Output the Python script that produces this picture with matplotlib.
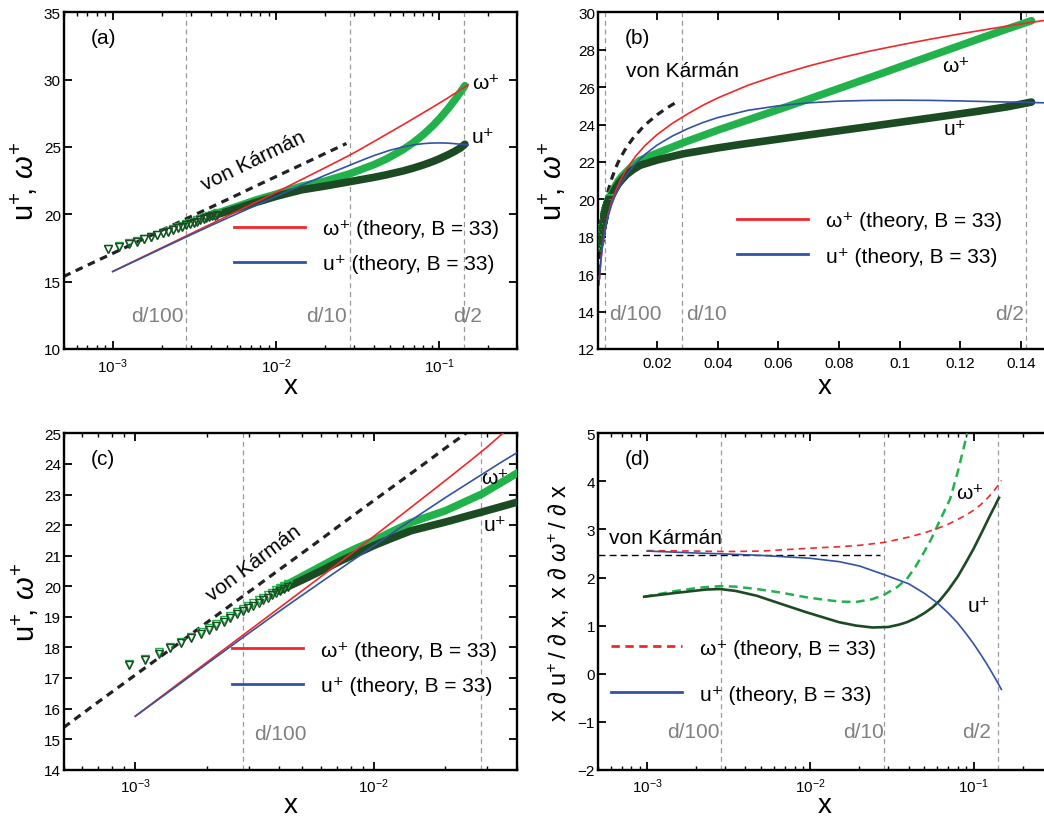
import matplotlib
matplotlib.use('Agg')
import matplotlib.pyplot as plt
from matplotlib.lines import Line2D
from matplotlib.ticker import NullFormatter

plt.rcParams['font.family'] = ['Liberation Sans', 'DejaVu Sans']
plt.rcParams['mathtext.fontset'] = 'custom'
plt.rcParams['mathtext.rm'] = 'Liberation Sans'
plt.rcParams['mathtext.it'] = 'Liberation Sans:italic'
plt.rcParams['mathtext.bf'] = 'Liberation Sans:bold'
plt.rcParams['axes.linewidth'] = 1.7

LIGHT = '#22b24c'
DARK = '#1b4a23'
RED = '#f0282a'
BLUE = '#3152a5'
VGRAY = '#9a9a9a'
TGRAY = '#808080'

# measured profile: individual markers near the wall
mark_x = [0.00094, 0.00110, 0.00126, 0.00140, 0.00156, 0.00172, 0.00188, 0.00203,
          0.00219, 0.00235, 0.00250, 0.00267, 0.00282, 0.00298, 0.00313, 0.00329,
          0.00344, 0.00360, 0.00375, 0.00391, 0.00406, 0.00422, 0.00437]
mark_w = [17.46, 17.62, 17.84, 18.02, 18.19, 18.35, 18.49, 18.63, 18.76, 18.90, 19.02,
          19.15, 19.25, 19.35, 19.45, 19.54, 19.63, 19.71, 19.79, 19.87, 19.94, 20.01, 20.08]
mark_u = [17.43, 17.59, 17.80, 17.98, 18.15, 18.30, 18.44, 18.58, 18.70, 18.84, 18.95,
          19.08, 19.18, 19.28, 19.37, 19.46, 19.54, 19.62, 19.70, 19.77, 19.84, 19.91, 19.97]

# measured profile further out (dense samples, drawn as a band)
band_x = [0.0040, 0.0050, 0.0060, 0.00727, 0.0085, 0.0100, 0.0120, 0.0144, 0.0200,
          0.0285, 0.0400, 0.0473, 0.0600, 0.0693, 0.0800, 0.0912, 0.1000, 0.1132,
          0.1250, 0.1352, 0.1434]
band_w = [19.92, 20.32, 20.65, 21.00, 21.25, 21.49, 21.80, 22.09, 22.47, 23.02, 23.70,
          24.10, 24.80, 25.32, 25.93, 26.57, 27.08, 27.84, 28.52, 29.10, 29.55]
band_u = [19.85, 20.20, 20.50, 20.83, 21.07, 21.33, 21.58, 21.82, 22.10, 22.43, 22.75,
          22.93, 23.22, 23.43, 23.67, 23.92, 24.12, 24.42, 24.69, 24.94, 25.20]

# theory, B = 33
th_x = [0.001, 0.0015, 0.002, 0.003, 0.004, 0.005, 0.006, 0.008, 0.010, 0.013,
        0.016, 0.020, 0.025, 0.030, 0.035, 0.040, 0.050, 0.060, 0.070, 0.080,
        0.090, 0.100, 0.110, 0.120, 0.130, 0.140, 0.150]
th_w = [15.75, 16.79, 17.52, 18.55, 19.28, 19.85, 20.31, 21.05, 21.63, 22.32,
        22.87, 23.46, 24.06, 24.56, 25.02, 25.42, 26.10, 26.65, 27.13, 27.55,
        27.92, 28.25, 28.56, 28.85, 29.12, 29.38, 29.62]
th_u = [15.75, 16.75, 17.47, 18.47, 19.17, 19.70, 20.13, 20.80, 21.32, 21.93,
        22.40, 22.90, 23.38, 23.77, 24.10, 24.37, 24.76, 25.00, 25.16, 25.25,
        25.29, 25.30, 25.29, 25.26, 25.22, 25.19, 25.15]

# von Karman log law
vk_x = [0.0005, 0.0007, 0.001, 0.0015, 0.002, 0.003, 0.004, 0.005, 0.006, 0.007,
        0.008, 0.010, 0.012, 0.015, 0.017, 0.020, 0.023, 0.027]
vk_y = [15.38, 16.22, 17.10, 18.10, 18.82, 19.82, 20.53, 21.08, 21.53, 21.92,
        22.25, 22.80, 23.25, 23.80, 24.11, 24.52, 24.86, 25.26]

# log-derivatives, theory
dth_x = [0.001, 0.002, 0.003, 0.005, 0.010, 0.015, 0.020, 0.0283, 0.040, 0.050,
         0.060, 0.070, 0.080, 0.090, 0.100, 0.110, 0.120, 0.130, 0.140, 0.148]
dth_w = [2.56, 2.55, 2.54, 2.55, 2.61, 2.64, 2.67, 2.73, 2.84, 2.93,
         3.02, 3.11, 3.21, 3.30, 3.40, 3.51, 3.63, 3.76, 3.90, 4.02]
dth_u = [2.55, 2.51, 2.49, 2.46, 2.40, 2.33, 2.24, 2.06, 1.87, 1.67,
         1.47, 1.26, 1.05, 0.83, 0.62, 0.41, 0.21, 0.01, -0.18, -0.33]

# log-derivatives, measured
ddu_x = [0.00096, 0.0015, 0.0023, 0.0028, 0.0035, 0.0047, 0.0065, 0.0094, 0.012, 0.015,
         0.019, 0.024, 0.030, 0.035, 0.039, 0.044, 0.050, 0.056, 0.062, 0.070,
         0.080, 0.090, 0.100, 0.113, 0.126, 0.136, 0.143]
ddu_y = [1.60, 1.68, 1.75, 1.76, 1.72, 1.62, 1.46, 1.28, 1.17, 1.07,
         1.00, 0.96, 0.97, 1.02, 1.07, 1.15, 1.26, 1.38, 1.52, 1.74,
         2.02, 2.32, 2.60, 2.96, 3.29, 3.51, 3.66]
ddw_x = [0.00096, 0.0015, 0.0021, 0.0028, 0.0035, 0.0047, 0.0065, 0.0094, 0.012, 0.015,
         0.019, 0.024, 0.0283, 0.034, 0.039, 0.044, 0.049, 0.055, 0.062, 0.0717,
         0.080, 0.0914]
ddw_y = [1.60, 1.72, 1.79, 1.82, 1.81, 1.76, 1.69, 1.59, 1.54, 1.50,
         1.49, 1.55, 1.64, 1.80, 1.97, 2.22, 2.49, 2.80, 3.18, 3.63,
         4.20, 5.00]
dvk_x = [0.0005, 0.0266]
dvk_y = [2.47, 2.47]

# reference heights
d_x = [0.00283, 0.0283, 0.1415]
d_labels = ['d/100', 'd/10', 'd/2']

leg_w = '\u03c9\u207a (theory, B = 33)'
leg_u = 'u\u207a (theory, B = 33)'

FS = 15

fig = plt.figure(figsize=(10.44, 8.2), dpi=100)
ax_a = fig.add_axes([0.0609, 0.5732, 0.4345, 0.4106])
ax_b = fig.add_axes([0.5727, 0.5732, 0.4345, 0.4106])
ax_c = fig.add_axes([0.0609, 0.0601, 0.4345, 0.4102])
ax_d = fig.add_axes([0.5727, 0.0601, 0.4345, 0.4102])


def style(ax):
    ax.tick_params(which='both', direction='in', top=True, right=True, labelsize=11)
    ax.tick_params(which='major', length=6, width=1.3, pad=5)
    ax.tick_params(axis='y', which='major', pad=2)
    ax.tick_params(which='minor', length=3, width=1.0)
    ax.xaxis.set_minor_formatter(NullFormatter())


def vlines(ax):
    for xv in d_x:
        ax.axvline(xv, color=VGRAY, lw=0.9, ls=(0, (4, 3)), zorder=1)


def draw_profiles(ax):
    ax.plot(vk_x, vk_y, color='#222222', lw=2.3, ls=(0, (2.4, 1.8)), zorder=2)
    ax.plot(band_x, band_w, color=LIGHT, lw=5.5, solid_capstyle='round', zorder=3)
    ax.plot(band_x, band_u, color=DARK, lw=5.5, solid_capstyle='round', zorder=3)
    ax.plot(mark_x, mark_w, 'v', ms=5.5, mfc='none', mec=LIGHT, mew=1.0, zorder=3)
    ax.plot(mark_x, mark_u, 'v', ms=5.5, mfc='none', mec=DARK, mew=1.0, zorder=3)
    ax.plot(th_x, th_w, color=RED, lw=1.2, zorder=4)
    ax.plot(th_x, th_u, color=BLUE, lw=1.2, zorder=4)


def legend(ax, x, y, spacing, dashed=False):
    handles = [Line2D([], [], color=RED, lw=2.0, ls=(0, (3, 2)) if dashed else '-'),
               Line2D([], [], color=BLUE, lw=2.0)]
    ax.legend(handles, [leg_w, leg_u], loc='upper left', bbox_to_anchor=(x, y),
              frameon=False, fontsize=FS, handlelength=3.4, handletextpad=0.87,
              labelspacing=spacing, borderpad=0, borderaxespad=0)


def dlabel(ax, xv, y, text, dx, ha):
    ax.annotate(text, xy=(xv, y), xytext=(dx, 0), textcoords='offset points',
                ha=ha, va='center', fontsize=FS, color=TGRAY)


def panel_tag(ax, text):
    ax.text(0.06, 0.925, text, transform=ax.transAxes, fontsize=FS,
            ha='left', va='center')


ylab = r'$\mathrm{u}^{+}\!,\,\omega^{+}$'

# (a) log x
ax = ax_a
style(ax)
ax.set_xscale('log')
ax.set_xlim(5e-4, 0.3)
ax.set_ylim(10, 35)
ax.set_yticks([10, 15, 20, 25, 30, 35])
vlines(ax)
draw_profiles(ax)
legend(ax, 0.376, 0.386, 0.78)
panel_tag(ax, '(a)')
ax.text(0.00731, 24.0, 'von K\u00e1rm\u00e1n', rotation=26, rotation_mode='anchor',
        ha='center', va='center', fontsize=FS)
ax.text(0.158, 29.8, '\u03c9\u207a', ha='left', va='center', fontsize=FS)
ax.text(0.158, 25.8, 'u\u207a', ha='left', va='center', fontsize=FS)
dlabel(ax, d_x[0], 12.5, d_labels[0], -2, 'right')
dlabel(ax, d_x[1], 12.5, d_labels[1], -2, 'right')
dlabel(ax, 0.148, 12.5, d_labels[2], 0, 'center')
ax.set_xlabel('x', fontsize=20)
ax.set_ylabel(ylab, fontsize=21)
ax.yaxis.set_label_coords(-0.052, 0.5)
ax.xaxis.set_label_coords(0.5, -0.072)

# (b) linear x
ax = ax_b
style(ax)
ax.set_xlim(5e-4, 0.15)
ax.set_ylim(12, 30)
ax.set_xticks([0.02, 0.04, 0.06, 0.08, 0.1, 0.12, 0.14])
ax.set_xticklabels(['0.02', '0.04', '0.06', '0.08', '0.1', '0.12', '0.14'])
ax.set_yticks(range(12, 31, 2))
vlines(ax)
draw_profiles(ax)
legend(ax, 0.306, 0.409, 0.78)
panel_tag(ax, '(b)')
ax.text(0.0099, 26.89, 'von K\u00e1rm\u00e1n', ha='left', va='center', fontsize=FS)
ax.text(0.1138, 27.15, '\u03c9\u207a', ha='left', va='center', fontsize=FS)
ax.text(0.1145, 23.78, 'u\u207a', ha='left', va='center', fontsize=FS)
dlabel(ax, d_x[0], 13.9, d_labels[0], 3, 'left')
dlabel(ax, d_x[1], 13.9, d_labels[1], 3, 'left')
dlabel(ax, d_x[2], 13.9, d_labels[2], -1, 'right')
ax.set_xlabel('x', fontsize=20)
ax.set_ylabel(ylab, fontsize=21)
ax.yaxis.set_label_coords(-0.066, 0.5)
ax.xaxis.set_label_coords(0.5, -0.072)

# (c) log x, zoomed
ax = ax_c
style(ax)
ax.set_xscale('log')
ax.set_xlim(5e-4, 0.04)
ax.set_ylim(14, 25)
ax.set_yticks(range(14, 26))
vlines(ax)
draw_profiles(ax)
legend(ax, 0.371, 0.384, 0.8)
panel_tag(ax, '(c)')
ax.text(0.00315, 20.78, 'von K\u00e1rm\u00e1n', rotation=37, rotation_mode='anchor',
        ha='center', va='center', fontsize=FS)
ax.text(0.02826, 23.56, '\u03c9\u207a', ha='left', va='center', fontsize=FS)
ax.text(0.029, 22.03, 'u\u207a', ha='left', va='center', fontsize=FS)
ax.text(0.00315, 15.17, d_labels[0], ha='left', va='center', fontsize=FS, color=TGRAY)
ax.set_xlabel('x', fontsize=20)
ax.set_ylabel(ylab, fontsize=21)
ax.yaxis.set_label_coords(-0.049, 0.5)
ax.xaxis.set_label_coords(0.5, -0.066)

# (d) log-derivatives
ax = ax_d
style(ax)
ax.set_xscale('log')
ax.set_xlim(5e-4, 0.3)
ax.set_ylim(-2, 5)
ax.set_yticks(range(-2, 6))
vlines(ax)
ax.plot(dvk_x, dvk_y, color='black', lw=1.0, ls=(0, (5, 3)), zorder=2)
ax.plot(ddw_x, ddw_y, color=LIGHT, lw=1.8, ls=(0, (3.5, 2.2)), zorder=3)
ax.plot(ddu_x, ddu_y, color=DARK, lw=1.9, zorder=3)
ax.plot(dth_x, dth_w, color=RED, lw=1.2, ls=(0, (4, 3)), zorder=4)
ax.plot(dth_x, dth_u, color=BLUE, lw=1.2, zorder=4)
legend(ax, 0.0287, 0.39, 1.3, dashed=True)
panel_tag(ax, '(d)')
ax.text(0.000586, 2.84, 'von K\u00e1rm\u00e1n', ha='left', va='center', fontsize=FS)
ax.text(0.0782, 3.77, '\u03c9\u207a', ha='left', va='center', fontsize=FS)
ax.text(0.0923, 1.41, 'u\u207a', ha='left', va='center', fontsize=FS)
dlabel(ax, d_x[0], -1.21, d_labels[0], -1, 'right')
dlabel(ax, d_x[1], -1.21, d_labels[1], 0, 'right')
dlabel(ax, d_x[2], -1.21, d_labels[2], -5, 'right')
ax.set_xlabel('x', fontsize=20)
ax.set_ylabel(r'$\mathrm{x}\ \partial\ \mathrm{u}^{+}\,/\ \partial\ \mathrm{x},\ '
              r'\mathrm{x}\ \partial\ \omega^{+}\,/\ \partial\ \mathrm{x}$', fontsize=17)
ax.yaxis.set_label_coords(-0.058, 0.5)
ax.xaxis.set_label_coords(0.5, -0.066)

fig.savefig('out.png', dpi=100)
